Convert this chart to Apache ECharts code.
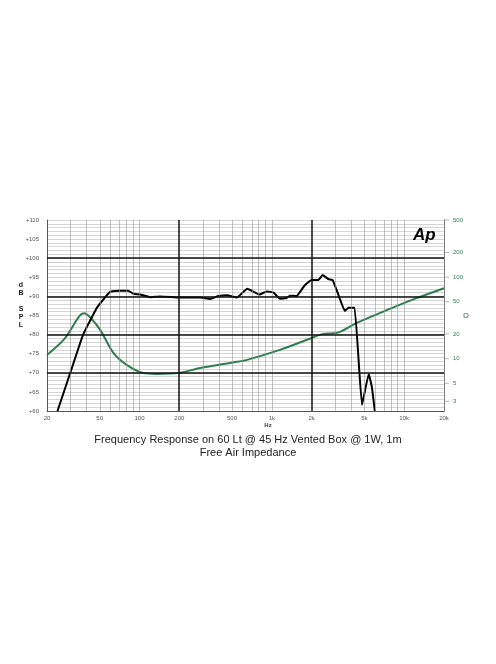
<!DOCTYPE html>
<html>
<head>
<meta charset="utf-8">
<script src="https://cdn.jsdelivr.net/npm/echarts@6/dist/echarts.min.js"></script>
<style>html,body{margin:0;background:#fff}#chart{width:496px;height:664px}</style>
</head>
<body>
<div id="chart"></div>
<script>
// SPL curve (Hz, dB)
var splFreq = [24, 30, 37.5, 48, 60, 71, 82, 90, 101, 120, 143, 180, 200, 288, 342, 395, 460, 545, 652, 808, 914, 1030, 1150, 1290, 1370, 1540, 1760, 2000, 2250, 2420, 2680, 2880, 3200, 3560, 3800, 4220, 4800, 5400, 5700, 6000]
var splDb = [60, 70, 80, 87.2, 91.2, 91.5, 91.5, 90.7, 90.5, 89.8, 90, 89.8, 89.7, 89.7, 89.3, 90.1, 90.3, 89.7, 92, 90.5, 91.3, 91, 89.4, 89.6, 90.2, 90.1, 92.8, 94.3, 94.3, 95.6, 94.5, 94.3, 90.2, 86.2, 87, 87, 61.6, 69.7, 66.3, 60]
// impedance curve (Hz, ohm)
var impFreq = [20, 27.4, 35, 38, 42.5, 50.6, 63.5, 80, 106, 136, 200, 288, 510, 640, 1150, 2000, 2400, 3200, 4300, 7300, 12000, 20000]
var impOhm = [11.1, 17.9, 33, 36, 32, 22.4, 11.8, 8.4, 6.7, 6.5, 6.7, 7.7, 9.0, 9.6, 12.8, 17.9, 20, 21, 27, 39, 54, 73]
var xTickFreq = [20, 50, 100, 200, 500, 1000, 2000, 5000, 10000, 20000]
var xTickText = ['20', '50', '100', '200', '500', '1k', '2k', '5k', '10k', '20k']
var ohmTicks = [500, 200, 100, 50, 20, 10, 5, 3]

var lg = Math.log10
var ohmMin = lg(500) - 2.34

// vertical grid lines 20Hz..20kHz
var vLines = []
;[10, 100, 1000, 10000].forEach(function (d) {
  for (var m = 1; m < 10; m++) {
    var f = d * m
    if (f < 20 || f > 20000) continue
    var major = (f == 200 || f == 2000)
    vLines.push({ xAxis: lg(f), lineStyle: { color: major ? '#111' : '#999', width: major ? 1.5 : 0.6, type: 'solid' } })
  }
})
var hLines = [70, 80, 90, 100].map(function (v) {
  return { yAxis: v, lineStyle: { color: '#111', width: 1.5, type: 'solid' } }
})

var myChart = echarts.init(document.getElementById('chart'))
myChart.setOption({
  animation: false,
  grid: { left: 47, right: 52, top: 220, bottom: 253 },
  xAxis: { type: 'value', min: lg(20), max: lg(20000), axisLabel: { show: false }, axisTick: { show: false },
    splitLine: { show: false }, axisLine: { lineStyle: { color: '#555', width: 1 } } },
  yAxis: [
    { type: 'value', min: 60, max: 110, interval: 1,
      axisLabel: { fontSize: 6, color: '#555', formatter: function (v) { return v % 5 == 0 ? '+' + v : '' } },
      axisTick: { show: false }, axisLine: { show: true, lineStyle: { color: '#555' } },
      splitLine: { lineStyle: { color: '#aaa', width: 0.5 } } },
    { type: 'value', min: ohmMin, max: lg(500), axisLabel: { show: false }, axisTick: { show: false },
      axisLine: { show: true, lineStyle: { color: '#555' } }, splitLine: { show: false } }
  ],
  series: [
    { type: 'line', data: [], markLine: { silent: true, symbol: 'none', data: vLines.concat(hLines), label: { show: false } } },
    { type: 'line', yAxisIndex: 1, showSymbol: false, smooth: 0.3, lineStyle: { color: '#2e7d4f', width: 2 },
      data: impFreq.map(function (f, i) { return [lg(f), lg(impOhm[i])] }) },
    { type: 'line', showSymbol: false, smooth: 0.1, lineStyle: { color: '#000', width: 2 },
      data: splFreq.map(function (f, i) { return [lg(f), splDb[i]] }) }
  ]
})

// tick labels placed through the axis scales
var g = []
xTickFreq.forEach(function (f, i) {
  var p = myChart.convertToPixel({ xAxisIndex: 0, yAxisIndex: 0 }, [lg(f), 60])
  g.push({ type: 'text', x: p[0], y: p[1] + 4, style: { text: xTickText[i], fontSize: 6, fill: '#555', align: 'center' } })
})
ohmTicks.forEach(function (o) {
  var p = myChart.convertToPixel({ xAxisIndex: 0, yAxisIndex: 1 }, [lg(20000), lg(o)])
  g.push({ type: 'line', shape: { x1: p[0], y1: p[1], x2: p[0] + 5, y2: p[1] }, style: { stroke: '#888', lineWidth: 0.6 } })
  g.push({ type: 'text', x: p[0] + 9, y: p[1], style: { text: String(o), fontSize: 6, fill: '#2e7d4f', verticalAlign: 'middle' } })
})
g.push({ type: 'text', x: 463, y: 316, style: { text: 'Ω', fontSize: 8, fill: '#2e7d4f', verticalAlign: 'middle' } })
g.push({ type: 'text', x: 413, y: 227, style: { text: 'Ap', fontSize: 17, fontWeight: 'bold', fontStyle: 'italic', fontFamily: 'Liberation Sans', fill: '#000' } })
g.push({ type: 'text', x: 21, y: 305, style: { text: 'd\nB\n\nS\nP\nL', fontSize: 7, fontWeight: 'bold', lineHeight: 8, fill: '#222', align: 'center', verticalAlign: 'middle' } })
g.push({ type: 'text', x: 268, y: 422, style: { text: 'Hz', fontSize: 6, fontWeight: 'bold', fill: '#333', align: 'center' } })
g.push({ type: 'text', x: 248, y: 446, style: { text: 'Frequency Response on 60 Lt @ 45 Hz Vented Box @ 1W, 1m\nFree Air Impedance',
  fontSize: 11, lineHeight: 13, fontFamily: 'Liberation Sans', fill: '#222', align: 'center', verticalAlign: 'middle' } })
myChart.setOption({ graphic: g })
</script>
</body>
</html>
